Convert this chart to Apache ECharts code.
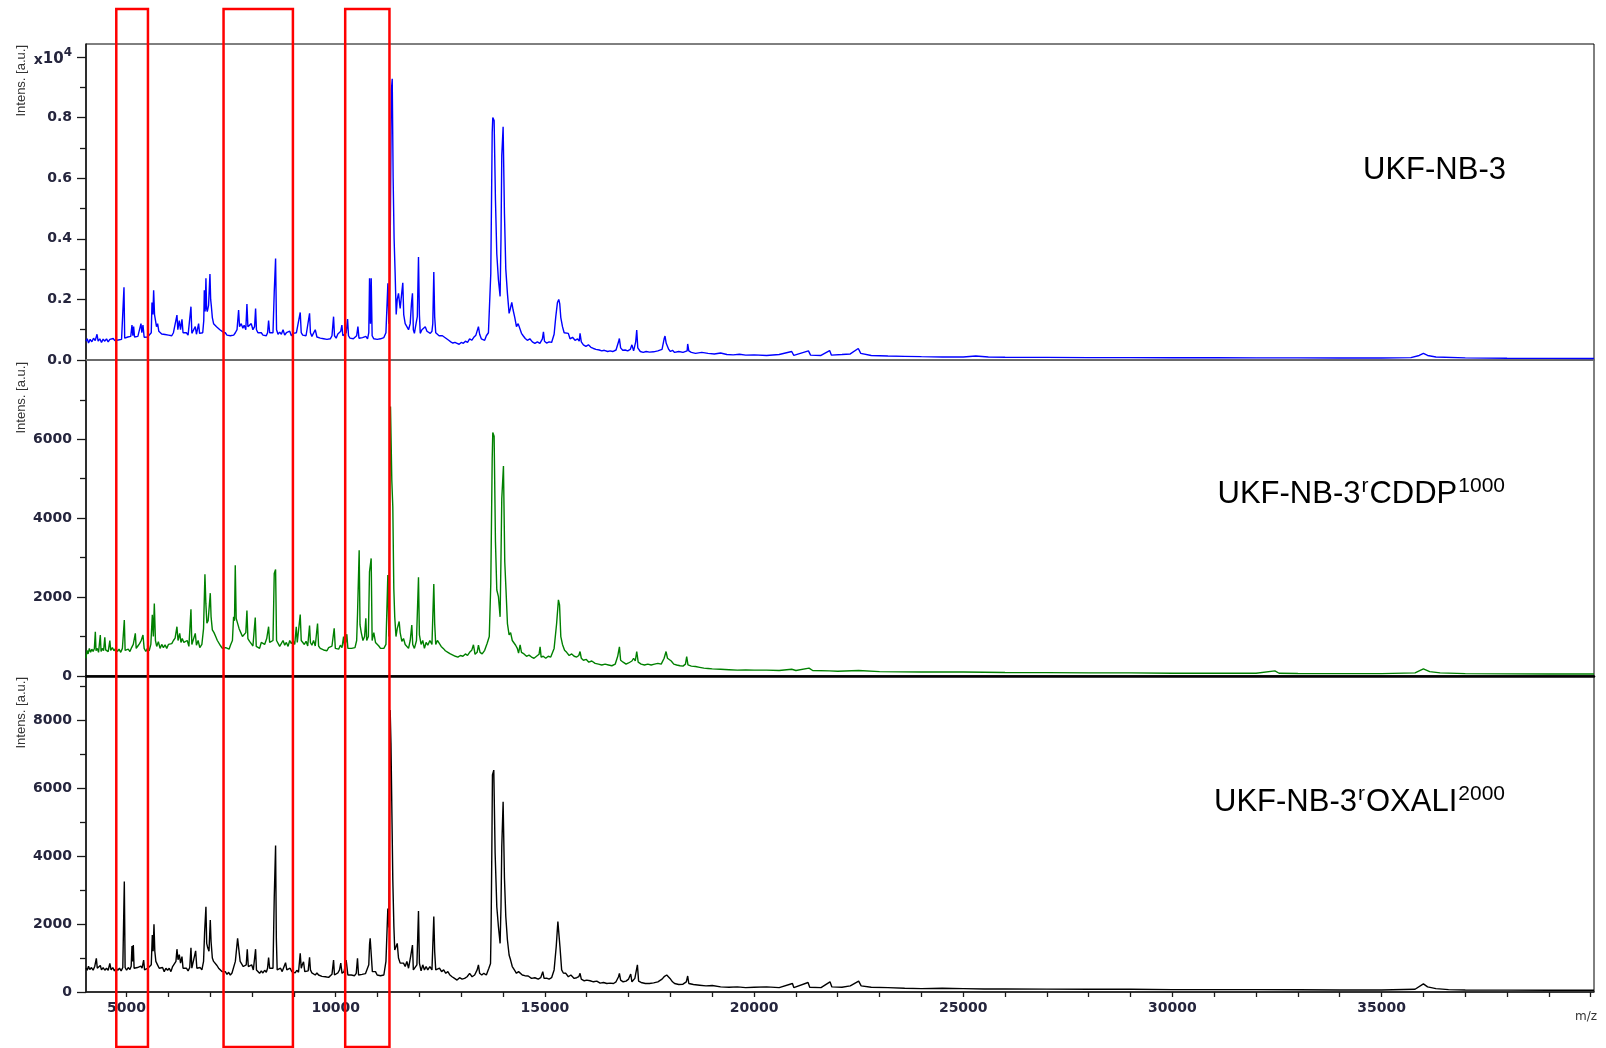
<!DOCTYPE html>
<html><head><meta charset="utf-8">
<script src="https://cdn.jsdelivr.net/npm/echarts@6/dist/echarts.min.js"></script>
<style>html,body{margin:0;padding:0;background:#fff}#c{width:1606px;height:1048px}</style>
</head><body><div id="c"></div>
<script>
// ---------------- data (m/z, intensity) ----------------
const mzMin = 4030, mzMax = 40078;
const xMajorTicks = [5000,6000,7000,8000,9000,10000,11000,12000,13000,14000,15000,16000,17000,18000,19000,20000,21000,22000,23000,24000,25000,26000,27000,28000,29000,30000,31000,32000,33000,34000,35000,36000,37000,38000,39000,40000];
const xTickLabels = [5000,10000,15000,20000,25000,30000,35000];
const panelMax = [10430, 8010, 9300];
const yMajor1 = [0,2000,4000,6000,8000,10000], yMinor1 = [1000,3000,5000,7000,9000];
const yMajor2 = [0,2000,4000,6000], yMinor2 = [1000,3000,5000,7000];
const yMajor3 = [0,2000,4000,6000,8000], yMinor3 = [1000,3000,5000,7000,9000];
const titles = ['UKF-NB-3', 'UKF-NB-3rCDDP1000', 'UKF-NB-3rOXALI2000'];
const highlightMz = [[4754,5511],[7318,8976],[10226,11284]];

const ukfNb3 = [[4030,620],[4060,700],[4090,560],[4130,680],[4170,600],[4210,720],[4250,640],[4293,850],[4320,620],[4360,700],[4400,580],[4440,690],[4480,620],[4520,700],[4560,600],[4600,680],[4640,620],[4680,710],[4720,640],[4760,700],[4800,660],[4840,720],[4880,680],[4920,700],[4938,2400],[4955,720],[4990,680],[5030,760],[5070,700],[5100,780],[5129,1150],[5150,800],[5169,1100],[5190,760],[5230,700],[5270,780],[5300,720],[5344,1200],[5365,900],[5392,1150],[5420,750],[5460,700],[5500,760],[5540,700],[5590,900],[5607,1900],[5630,1500],[5647,2300],[5668,1500],[5687,1450],[5715,1100],[5742,1200],[5770,950],[5806,1000],[5840,860],[5880,920],[5920,840],[5960,900],[6000,820],[6040,880],[6080,800],[6120,900],[6160,880],[6204,1480],[6225,1000],[6260,1300],[6290,1000],[6324,1340],[6350,900],[6390,850],[6430,900],[6470,820],[6510,860],[6539,1760],[6560,880],[6600,820],[6642,1100],[6670,850],[6700,880],[6722,1200],[6745,880],[6780,850],[6820,900],[6845,1300],[6858,2300],[6878,1600],[6897,2700],[6913,1700],[6929,1600],[6960,1800],[6993,2840],[7010,2000],[7025,1800],[7050,1400],[7080,1200],[7120,1250],[7150,1100],[7190,1150],[7230,1000],[7270,1050],[7310,920],[7359,900],[7400,820],[7440,880],[7480,800],[7520,860],[7560,820],[7600,900],[7640,1000],[7678,1650],[7700,1100],[7740,1200],[7780,1050],[7810,1150],[7850,1000],[7877,1850],[7900,1100],[7940,1050],[7980,1200],[8020,1000],[8060,1100],[8084,1700],[8105,1000],[8140,900],[8180,850],[8220,900],[8260,820],[8300,880],[8340,800],[8370,900],[8395,1300],[8420,900],[8460,850],[8500,900],[8530,2250],[8562,3350],[8585,1000],[8620,850],[8660,920],[8700,850],[8740,1000],[8780,820],[8820,900],[8860,850],[8900,950],[8940,800],[8980,880],[9020,820],[9060,900],[9100,850],[9151,1570],[9175,900],[9210,820],[9250,880],[9290,800],[9330,850],[9374,1540],[9395,900],[9430,780],[9470,800],[9510,1000],[9550,760],[9590,800],[9630,720],[9670,780],[9710,700],[9750,760],[9790,680],[9830,740],[9870,700],[9910,800],[9948,1430],[9970,800],[10010,720],[10050,860],[10090,900],[10120,950],[10147,1150],[10170,800],[10210,740],[10250,900],[10283,1350],[10305,800],[10340,720],[10380,760],[10420,700],[10460,760],[10500,800],[10530,1100],[10555,720],[10600,680],[10640,740],[10680,700],[10720,780],[10760,700],[10790,900],[10808,2700],[10830,1200],[10848,2700],[10870,800],[10910,700],[10950,760],[10990,680],[11030,720],[11070,700],[11110,760],[11150,740],[11200,900],[11246,2530],[11270,1200],[11300,3500],[11330,8900],[11350,9280],[11372,6000],[11395,4000],[11420,2850],[11445,1500],[11470,2000],[11500,2200],[11540,1700],[11580,2250],[11603,2550],[11625,1500],[11660,1200],[11700,1100],[11740,1000],[11780,1200],[11810,1870],[11834,2200],[11855,1000],[11880,880],[11920,1200],[11950,1430],[11978,3400],[12000,1500],[12020,880],[12060,1000],[12100,990],[12140,1100],[12180,950],[12220,1000],[12260,880],[12300,950],[12320,1200],[12344,2900],[12365,1430],[12390,900],[12430,880],[12470,800],[12510,770],[12550,800],[12600,750],[12650,700],[12700,650],[12750,600],[12800,560],[12850,580],[12900,550],[12950,520],[13000,580],[13050,550],[13100,620],[13150,580],[13200,700],[13250,650],[13300,750],[13350,820],[13411,1100],[13440,850],[13480,700],[13520,750],[13560,650],[13600,800],[13650,900],[13706,2850],[13740,7500],[13754,8000],[13786,7900],[13818,5270],[13850,3500],[13889,2640],[13929,2100],[13950,4000],[13969,6750],[14001,7700],[14033,4830],[14065,3000],[14104,2200],[14144,1540],[14175,1700],[14208,1900],[14240,1650],[14280,1400],[14320,1100],[14360,1200],[14407,1260],[14440,880],[14480,800],[14530,710],[14580,650],[14640,700],[14700,600],[14760,550],[14820,600],[14880,550],[14940,700],[14965,930],[14990,620],[15040,560],[15100,600],[15160,580],[15220,850],[15260,1430],[15300,1900],[15331,2000],[15355,1850],[15380,1400],[15420,1100],[15460,900],[15500,880],[15560,880],[15600,700],[15660,750],[15720,650],[15780,700],[15820,620],[15840,880],[15870,600],[15920,500],[15980,450],[16040,500],[16100,420],[16160,380],[16220,350],[16300,330],[16360,300],[16420,320],[16500,280],[16560,300],[16620,280],[16700,330],[16760,600],[16780,710],[16810,400],[16860,320],[16920,330],[16980,300],[17040,350],[17080,500],[17120,300],[17170,600],[17195,990],[17220,400],[17280,280],[17350,250],[17420,280],[17500,260],[17600,270],[17700,300],[17800,350],[17850,700],[17871,790],[17900,550],[17930,600],[17960,350],[18000,280],[18050,320],[18100,250],[18200,280],[18300,250],[18400,300],[18413,530],[18440,300],[18500,250],[18600,220],[18750,250],[18900,220],[19050,200],[19200,230],[19350,180],[19500,170],[19650,190],[19800,160],[20000,170],[20300,150],[20600,180],[20900,280],[20950,150],[21300,300],[21350,160],[21600,150],[21806,310],[21850,160],[22100,180],[22300,200],[22491,380],[22550,220],[22800,150],[23200,130],[23600,120],[24000,110],[24500,100],[25000,100],[25300,130],[25600,100],[26000,90],[27000,85],[28000,80],[29000,80],[30000,75],[31000,75],[32000,70],[33000,70],[34000,65],[35000,65],[35700,80],[35900,150],[36000,220],[36100,150],[36300,100],[37000,70],[38000,60],[39000,55],[40078,50]];

const ukfNb3rCddp1000 = [[4030,450],[4050,650],[4080,560],[4110,700],[4140,600],[4170,680],[4200,620],[4230,700],[4253,1120],[4270,640],[4300,700],[4330,600],[4372,1040],[4390,620],[4420,700],[4450,640],[4480,980],[4500,660],[4530,700],[4560,620],[4600,900],[4620,650],[4660,720],[4700,640],[4740,700],[4780,620],[4820,680],[4860,600],[4900,700],[4946,1420],[4965,650],[5000,600],[5040,680],[5080,620],[5120,720],[5160,800],[5209,1080],[5230,700],[5270,760],[5310,820],[5350,900],[5392,1040],[5420,700],[5460,620],[5500,700],[5540,640],[5580,800],[5615,1550],[5640,1000],[5663,1840],[5690,900],[5720,750],[5760,870],[5800,700],[5840,800],[5880,720],[5920,790],[5960,700],[6000,800],[6040,760],[6080,820],[6120,900],[6160,960],[6204,1250],[6230,900],[6270,1080],[6300,850],[6330,950],[6370,850],[6410,800],[6450,900],[6490,750],[6539,1690],[6560,800],[6600,750],[6642,1080],[6670,780],[6710,900],[6750,720],[6800,800],[6840,1200],[6873,2580],[6895,1840],[6920,1340],[6950,1400],[7001,2100],[7020,1500],[7050,1170],[7090,1100],[7130,1000],[7170,900],[7210,850],[7250,760],[7290,700],[7330,660],[7370,720],[7410,760],[7450,680],[7490,800],[7530,900],[7558,1500],[7580,1400],[7598,2810],[7620,1460],[7650,1480],[7690,1200],[7730,1100],[7770,1000],[7810,950],[7850,1100],[7877,1660],[7900,950],[7940,880],[7980,820],[8020,760],[8050,780],[8076,1480],[8100,750],[8140,800],[8180,700],[8220,850],[8260,900],[8300,800],[8350,950],[8395,1250],[8420,850],[8460,800],[8500,900],[8530,2600],[8562,2700],[8585,900],[8620,850],[8660,750],[8700,800],[8740,900],[8780,780],[8820,850],[8860,750],[8900,900],[8940,820],[8980,900],[9020,800],[9056,1250],[9080,850],[9120,900],[9151,1560],[9175,900],[9210,850],[9250,800],[9290,880],[9330,760],[9374,1280],[9395,850],[9430,780],[9470,900],[9510,760],[9565,1330],[9590,760],[9630,700],[9670,750],[9710,660],[9750,700],[9790,640],[9830,720],[9870,680],[9910,760],[9963,1210],[9990,700],[10030,750],[10070,680],[10110,780],[10150,720],[10187,1000],[10210,750],[10250,900],[10265,1060],[10290,700],[10330,660],[10380,700],[10420,650],[10460,720],[10500,900],[10520,1550],[10560,3190],[10580,1300],[10610,1100],[10650,900],[10690,1000],[10719,1460],[10740,900],[10780,1000],[10807,2640],[10847,2980],[10870,900],[10910,1100],[10950,850],[10990,820],[11030,760],[11070,700],[11110,740],[11150,700],[11200,800],[11245,2560],[11270,1000],[11309,6830],[11340,4970],[11364,4290],[11388,2220],[11410,1500],[11440,1000],[11470,1200],[11516,1380],[11540,1100],[11580,880],[11620,950],[11660,800],[11700,850],[11740,700],[11780,900],[11818,1290],[11840,800],[11880,700],[11930,900],[11978,2500],[12000,1040],[12040,800],[12080,900],[12120,700],[12160,850],[12200,780],[12250,900],[12300,800],[12344,2330],[12365,1330],[12390,800],[12430,900],[12470,870],[12520,750],[12570,700],[12620,640],[12680,600],[12740,560],[12800,530],[12860,500],[12920,480],[12980,520],[13040,500],[13100,560],[13150,520],[13200,600],[13250,650],[13292,790],[13330,550],[13380,600],[13411,780],[13450,600],[13500,560],[13560,650],[13620,830],[13670,1000],[13706,2330],[13740,5500],[13754,6170],[13786,6080],[13818,3400],[13850,2180],[13889,2010],[13929,1500],[13950,3000],[13969,4500],[14009,5320],[14040,2900],[14070,2180],[14104,1330],[14144,1040],[14180,1100],[14220,900],[14260,950],[14300,780],[14340,700],[14370,580],[14407,790],[14440,600],[14500,560],[14560,500],[14620,530],[14680,480],[14740,450],[14800,500],[14860,550],[14885,740],[14910,480],[14960,500],[15020,450],[15080,500],[15140,480],[15220,700],[15280,1330],[15323,1930],[15350,1800],[15380,1000],[15420,800],[15470,650],[15520,600],[15580,520],[15640,560],[15700,500],[15760,480],[15810,520],[15840,620],[15870,450],[15920,400],[15990,420],[16050,350],[16120,380],[16200,320],[16280,300],[16360,280],[16440,300],[16520,280],[16600,260],[16680,300],[16740,500],[16781,740],[16810,400],[16870,350],[16940,300],[17000,330],[17080,380],[17120,450],[17160,380],[17195,620],[17230,350],[17300,300],[17380,280],[17460,300],[17540,280],[17620,300],[17700,320],[17780,300],[17850,450],[17896,620],[17930,450],[17970,500],[18020,380],[18080,300],[18150,280],[18230,260],[18300,250],[18360,300],[18389,490],[18420,280],[18500,250],[18600,240],[18700,220],[18800,200],[18900,190],[19000,180],[19200,170],[19400,160],[19600,150],[19800,155],[20000,150],[20300,150],[20600,140],[20900,170],[21000,140],[21314,200],[21400,140],[21800,130],[22000,120],[22500,140],[23000,110],[24000,100],[25000,100],[26000,90],[27000,85],[28000,80],[29000,80],[30000,70],[31000,70],[32000,70],[32450,130],[32550,70],[33000,65],[34000,60],[35000,60],[35800,80],[36000,180],[36150,110],[36400,80],[37000,60],[38000,55],[39000,50],[40078,50]];

const ukfNb3rOxali2000 = [[4030,700],[4060,640],[4090,760],[4120,660],[4160,720],[4200,640],[4240,760],[4277,990],[4300,700],[4340,650],[4372,780],[4400,650],[4440,720],[4480,640],[4520,700],[4560,640],[4600,840],[4630,650],[4670,720],[4710,620],[4750,700],[4790,640],[4830,700],[4870,620],[4910,720],[4946,3250],[4965,720],[5000,640],[5040,720],[5080,660],[5110,760],[5129,1350],[5145,900],[5161,1380],[5180,700],[5220,650],[5260,720],[5300,680],[5340,760],[5370,700],[5408,940],[5430,650],[5470,620],[5510,700],[5550,650],[5590,800],[5615,1680],[5635,1200],[5655,1990],[5675,1200],[5700,900],[5740,800],[5780,700],[5820,650],[5860,720],[5900,600],[5940,700],[5980,640],[6020,700],[6060,600],[6100,750],[6140,700],[6180,900],[6204,1260],[6230,950],[6260,1100],[6290,850],[6324,1040],[6350,700],[6390,650],[6430,700],[6470,620],[6510,720],[6539,1300],[6560,700],[6600,660],[6651,1210],[6680,700],[6720,650],[6760,720],[6800,650],[6840,900],[6866,1780],[6897,2510],[6915,1430],[6940,1300],[6970,1200],[7001,2120],[7020,1480],[7050,1000],[7080,900],[7120,850],[7160,780],[7200,700],[7240,650],[7280,600],[7320,550],[7360,600],[7400,520],[7440,580],[7480,500],[7520,560],[7560,600],[7600,900],[7654,1580],[7694,1580],[7715,900],[7750,850],[7790,750],[7830,700],[7860,800],[7885,1260],[7910,750],[7950,700],[7990,800],[8030,650],[8060,700],[8084,1260],[8105,650],[8140,600],[8180,550],[8220,620],[8260,560],[8300,640],[8340,580],[8370,700],[8395,1010],[8420,700],[8460,650],[8500,700],[8530,2790],[8562,4310],[8580,1580],[8600,650],[8640,600],[8680,700],[8720,600],[8760,650],[8800,863],[8830,650],[8870,600],[8910,700],[8950,600],[8990,650],[9030,560],[9070,640],[9110,580],[9151,1140],[9175,700],[9200,800],[9230,890],[9260,600],[9300,560],[9340,620],[9374,1020],[9395,650],[9430,560],[9470,600],[9510,500],[9550,560],[9590,500],[9630,550],[9670,460],[9710,500],[9750,450],[9790,500],[9830,430],[9870,480],[9910,520],[9948,940],[9970,500],[10010,450],[10050,560],[10090,650],[10120,850],[10150,550],[10200,600],[10249,940],[10270,960],[10290,500],[10330,450],[10370,500],[10410,450],[10450,480],[10490,550],[10520,990],[10545,500],[10590,460],[10630,520],[10670,470],[10710,540],[10750,500],[10790,800],[10808,1400],[10823,1580],[10856,1580],[10875,600],[10910,550],[10950,600],[10990,500],[11030,550],[11070,480],[11110,520],[11150,500],[11200,900],[11245,2460],[11270,1900],[11301,8300],[11320,7320],[11340,7320],[11364,3300],[11390,1920],[11410,1240],[11440,1330],[11470,1430],[11500,1000],[11540,850],[11580,800],[11620,850],[11660,750],[11700,900],[11740,700],[11790,1040],[11834,1380],[11855,650],[11890,600],[11940,800],[11978,2380],[12000,850],[12040,620],[12080,800],[12120,650],[12160,750],[12200,650],[12250,750],[12300,650],[12344,2220],[12365,1190],[12390,650],[12430,650],[12480,700],[12530,600],[12580,650],[12630,550],[12680,600],[12730,500],[12780,450],[12840,400],[12900,350],[12960,420],[13020,380],[13080,400],[13140,450],[13200,550],[13260,450],[13320,500],[13380,650],[13411,800],[13440,550],[13490,500],[13540,550],[13600,500],[13660,700],[13700,840],[13714,1920],[13730,4000],[13746,6390],[13778,6530],[13810,4080],[13850,2510],[13889,1920],[13929,1430],[13950,2500],[13969,4280],[14001,5600],[14033,3350],[14065,2220],[14104,1530],[14144,1090],[14180,940],[14220,750],[14270,650],[14320,550],[14370,600],[14407,550],[14460,500],[14520,480],[14600,470],[14680,400],[14760,420],[14840,380],[14900,420],[14949,600],[14980,400],[15040,410],[15100,380],[15160,420],[15220,650],[15270,1330],[15310,2070],[15331,2020],[15360,1330],[15400,650],[15440,560],[15500,550],[15560,450],[15620,500],[15700,400],[15760,420],[15810,450],[15840,550],[15870,380],[15940,330],[16000,350],[16080,330],[16160,300],[16240,320],[16320,260],[16400,280],[16480,250],[16560,260],[16640,250],[16700,300],[16760,450],[16781,550],[16810,350],[16870,300],[16940,320],[17000,380],[17051,530],[17080,300],[17150,400],[17211,800],[17240,320],[17300,280],[17400,250],[17500,250],[17600,270],[17700,300],[17800,380],[17850,450],[17912,500],[17950,480],[17990,400],[18050,300],[18100,250],[18200,220],[18300,230],[18380,300],[18413,470],[18440,250],[18550,220],[18700,200],[18850,180],[19000,190],[19200,150],[19400,140],[19600,150],[19800,130],[20000,140],[20300,150],[20600,130],[20917,250],[20950,130],[21290,280],[21330,140],[21600,130],[21815,300],[21860,150],[22100,140],[22300,180],[22500,320],[22560,180],[22800,140],[23200,130],[23600,110],[24000,100],[24500,110],[25000,100],[25500,90],[26000,90],[27000,85],[28000,80],[29000,80],[30000,70],[31000,70],[32000,70],[33000,65],[34000,60],[35000,60],[35800,80],[36000,240],[36100,150],[36300,100],[36600,70],[37000,60],[38000,55],[39000,50],[40078,50]];

// ---------------- chart ----------------
const chart = echarts.init(document.getElementById('c'), null, {renderer: 'canvas'});
const LBL_FONT = 'DejaVu Sans';
const LBL_COLOR = '#25253d';
const AX = '#1a1a1a';
const gridLeft = 86, gridW = 1508, gridH = 316, gridTops = [44, 360, 676];

function yPair(gi, max, major, minor, fmt, rich) {
  return [
    {gridIndex: gi, type: 'value', min: 0, max: max, position: 'left',
     axisLine: {show: true, onZero: false, lineStyle: {color: AX, width: 1.6}},
     axisTick: {show: true, inside: false, length: 9, customValues: major, lineStyle: {color: AX, width: 1.3}},
     axisLabel: {show: true, customValues: major, margin: 14, fontFamily: LBL_FONT, fontSize: 14, fontWeight: 'bold', color: LBL_COLOR, formatter: fmt, rich: rich || {}},
     splitLine: {show: false}},
    {gridIndex: gi, type: 'value', min: 0, max: max, position: 'left',
     axisLine: {show: false},
     axisTick: {show: true, inside: false, length: 6, customValues: minor, lineStyle: {color: AX, width: 1.3}},
     axisLabel: {show: false}, splitLine: {show: false}}
  ];
}
const richExp = {
  x: {fontFamily: LBL_FONT, fontSize: 14, color: LBL_COLOR, lineHeight: 20, verticalAlign: 'bottom'},
  n: {fontFamily: LBL_FONT, fontSize: 15, color: LBL_COLOR, lineHeight: 20, verticalAlign: 'bottom'},
  s: {fontFamily: LBL_FONT, fontSize: 12, color: LBL_COLOR, lineHeight: 12, verticalAlign: 'top'}
};

const yAxes = [].concat(
  yPair(0, panelMax[0], yMajor1, yMinor1, v => v === 10000 ? '{x|x}{n|10}{s|4}' : (v / 10000).toFixed(1), richExp),
  yPair(1, panelMax[1], yMajor2, yMinor2, v => String(v)),
  yPair(2, panelMax[2], yMajor3, yMinor3, v => String(v))
);

const xAxes = [
  {gridIndex: 0, type: 'value', min: mzMin, max: mzMax,
   axisLine: {show: true, onZero: false, lineStyle: {color: '#6b6b6b', width: 2}},
   axisTick: {show: false}, axisLabel: {show: false}, splitLine: {show: false}},
  {gridIndex: 1, type: 'value', min: mzMin, max: mzMax,
   axisLine: {show: true, onZero: false, lineStyle: {color: '#000', width: 2.5}},
   axisTick: {show: false}, axisLabel: {show: false}, splitLine: {show: false}},
  {gridIndex: 2, type: 'value', min: mzMin, max: mzMax,
   axisLine: {show: true, onZero: false, lineStyle: {color: AX, width: 1.6}},
   axisTick: {show: true, inside: false, length: 5, customValues: xMajorTicks, lineStyle: {color: AX, width: 1.3}},
   axisLabel: {show: true, customValues: xTickLabels, margin: 9, fontFamily: LBL_FONT, fontSize: 14, fontWeight: 'bold', color: LBL_COLOR, formatter: v => String(v)},
   splitLine: {show: false}}
];

const seriesData = [ukfNb3, ukfNb3rCddp1000, ukfNb3rOxali2000];
const seriesColor = ['#0000ff', '#008000', '#000000'];

chart.setOption({
  animation: false,
  backgroundColor: '#ffffff',
  grid: gridTops.map(t => ({left: gridLeft, top: t, width: gridW, height: gridH, show: true, borderColor: '#000', borderWidth: 1, backgroundColor: 'transparent', containLabel: false, outerBoundsMode: 'none'})),
  xAxis: xAxes,
  yAxis: yAxes,
  series: seriesData.map((d, i) => ({
    type: 'line', name: titles[i], xAxisIndex: i, yAxisIndex: i * 2, data: d,
    showSymbol: false, symbol: 'none', clip: true,
    lineStyle: {color: seriesColor[i], width: 1.4}, itemStyle: {color: seriesColor[i]}
  }))
});

// ---------------- annotations ----------------
const titleRich = {
  m: {fontFamily: 'Liberation Sans', fontSize: 31, color: '#000', lineHeight: 34, verticalAlign: 'bottom'},
  s: {fontFamily: 'Liberation Sans', fontSize: 21, color: '#000', lineHeight: 25, verticalAlign: 'top', padding: [0, 1, 0, 1]}
};
const titleRichText = ['{m|UKF-NB-3}', '{m|UKF-NB-3}{s|r}{m|CDDP}{s|1000}', '{m|UKF-NB-3}{s|r}{m|OXALI}{s|2000}'];
const titleTops = [152, 476, 784];
const nameTops = [45, 362, 677];

const graphics = [];
titleRichText.forEach((t, i) => graphics.push({
  type: 'text', x: 1506, y: titleTops[i], z: 50,
  style: {text: t, rich: titleRich, align: 'right', verticalAlign: 'top', fill: '#000', font: '31px "Liberation Sans"'}
}));
nameTops.forEach(y => graphics.push({
  type: 'text', x: 21, y: y, rotation: Math.PI / 2, z: 50,
  style: {text: 'Intens. [a.u.]', align: 'right', verticalAlign: 'middle', fill: '#333', font: '13px "Liberation Sans"'}
}));
graphics.push({type: 'text', x: 1597, y: 1017, z: 50,
  style: {text: 'm/z', align: 'right', verticalAlign: 'middle', fill: '#333', font: '12px "DejaVu Sans"'}});
highlightMz.forEach(([a, b]) => {
  const x1 = chart.convertToPixel({xAxisIndex: 2}, a);
  const x2 = chart.convertToPixel({xAxisIndex: 2}, b);
  graphics.push({type: 'rect', z: 100, shape: {x: x1, y: 9, width: x2 - x1, height: 1038},
    style: {fill: 'none', stroke: '#ff0000', lineWidth: 2.5}});
});
chart.setOption({graphic: graphics});
</script>
</body></html>
